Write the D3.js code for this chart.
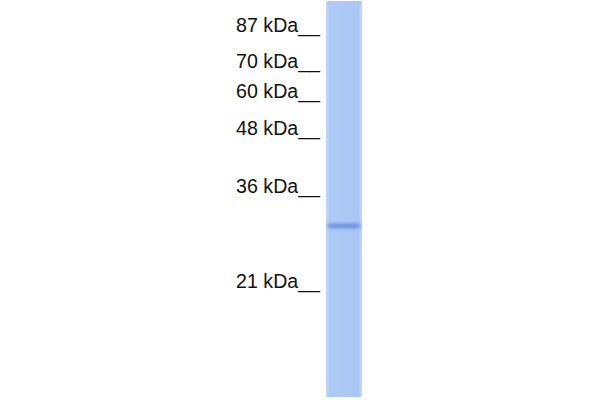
<!DOCTYPE html>
<html>
<head>
<meta charset="utf-8">
<script src="https://cdn.jsdelivr.net/npm/d3@7"></script>
<style>
  body { margin: 0; background: #fff; }
  svg { display: block; }
</style>
</head>
<body>
<div id="blot"></div>
<script>
// marker ladder (kDa) and how far each one ran down the lane (0 = top, 1 = bottom)
var marker_labels = ['87 kDa', '70 kDa', '60 kDa', '48 kDa', '36 kDa', '21 kDa'];
var marker_rf     = [0.061, 0.152, 0.228, 0.322, 0.468, 0.708];

// sample lanes and detected bands
var lanes      = ['sample'];
var band_lane  = ['sample'];
var band_rf    = [0.568];
var band_level = [0.62];

var width  = 600;
var height = 400;

var svg = d3.select('#blot')
	.append('svg')
	.attr('width', width)
	.attr('height', height);

var defs = svg.append('defs');

// lane is a bit paler at the edges
var lg = defs.append('linearGradient').attr('id', 'laneGrad')
	.attr('x1', '0%').attr('x2', '100%').attr('y1', '0%').attr('y2', '0%');
lg.append('stop').attr('offset', '0%').attr('stop-color', '#c4d8f8');
lg.append('stop').attr('offset', '10%').attr('stop-color', '#adc9f5');
lg.append('stop').attr('offset', '90%').attr('stop-color', '#aac6f4');
lg.append('stop').attr('offset', '100%').attr('stop-color', '#c4d8f8');

defs.append('filter').attr('id', 'blur')
	.attr('x', '-20%').attr('y', '-200%').attr('width', '140%').attr('height', '500%')
	.append('feGaussianBlur').attr('stdDeviation', '2 1.4');

// scales
var x_scale = d3.scaleBand()
	.domain(lanes)
	.range([326, 362]);

var y_scale = d3.scaleLinear()
	.domain([0, 1])
	.range([1, 397]);

var band_color = d3.scaleLinear()
	.domain([0, 1])
	.range(['#aac6f4', '#4f74d0']);

// lanes
svg.selectAll('rect.lane')
	.data(lanes)
	.enter()
	.append('rect')
	.attr('class', 'lane')
	.attr('x', function(d) { return x_scale(d); })
	.attr('y', y_scale(0))
	.attr('width', x_scale.bandwidth())
	.attr('height', y_scale(1) - y_scale(0))
	.attr('fill', 'url(#laneGrad)');

// bands
var bands = band_rf.map(function(r, i) {
	return { lane: band_lane[i], rf: r, level: band_level[i] };
});

svg.selectAll('rect.band')
	.data(bands)
	.enter()
	.append('rect')
	.attr('class', 'band')
	.attr('x', function(d) { return x_scale(d.lane) + 2; })
	.attr('y', function(d) { return y_scale(d.rf) - 2.5; })
	.attr('width', x_scale.bandwidth() - 4)
	.attr('height', 5)
	.attr('fill', function(d) { return band_color(d.level); })
	.attr('filter', 'url(#blur)');

// marker labels, underscores are part of the text
var markers = marker_labels.map(function(l, i) {
	return { label: l, rf: marker_rf[i] };
});

svg.selectAll('text.marker')
	.data(markers)
	.enter()
	.append('text')
	.attr('class', 'marker')
	.attr('x', 320)
	.attr('y', function(d) { return y_scale(d.rf) + 6.7; })
	.attr('text-anchor', 'end')
	.attr('font-family', 'Liberation Sans, Arial, sans-serif')
	.attr('font-size', 19.6)
	.attr('fill', '#111')
	.text(function(d) { return d.label + '__'; });
</script>
</body>
</html>
